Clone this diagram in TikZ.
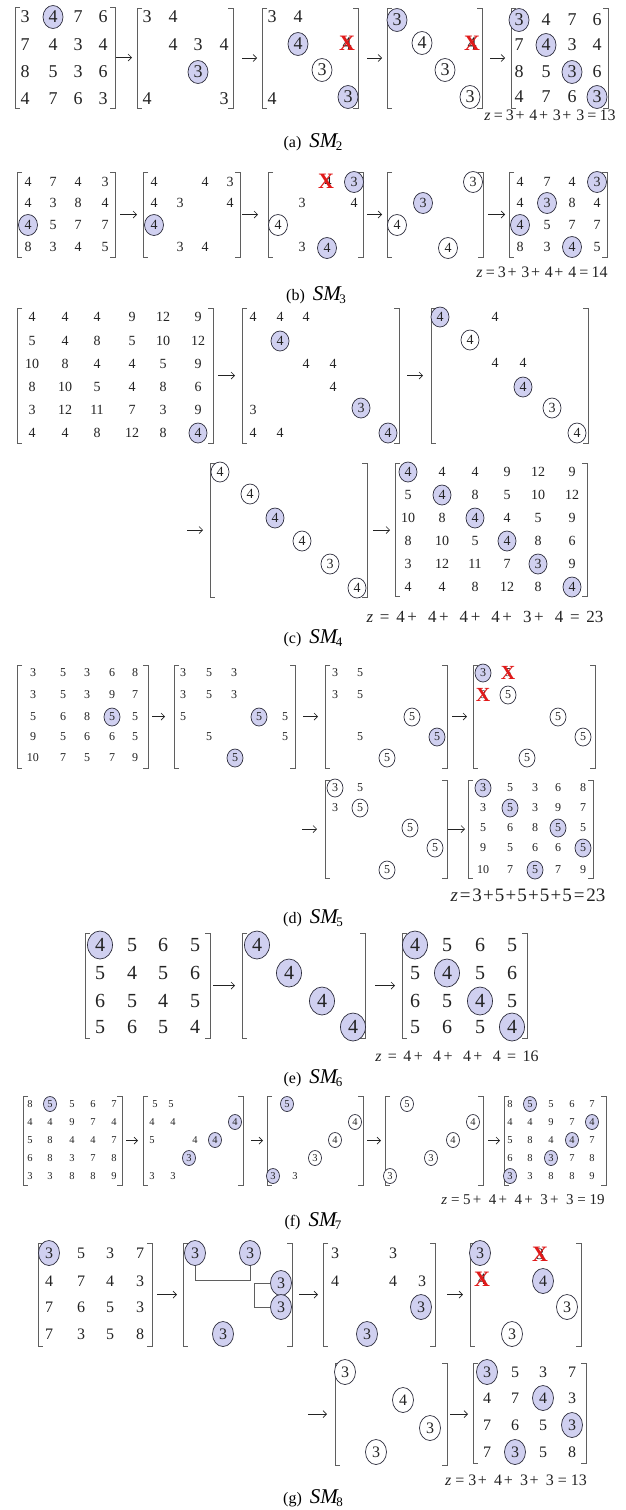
\documentclass[tikz,border=0pt]{standalone}
\usepackage{fontspec}
\setmainfont{Liberation Serif}
\usetikzlibrary{shapes.geometric,arrows.meta,calc}
\definecolor{selfill}{RGB}{208,208,240}
\definecolor{ringc}{RGB}{45,45,60}
\definecolor{brkc}{RGB}{95,95,95}
\definecolor{inkc}{RGB}{35,35,35}
\definecolor{crossred}{RGB}{225,25,25}

\tikzset{
  mframe/.style={inner sep=0pt, outer sep=0pt, draw=none},
  esize/.style={minimum width=20pt, minimum height=23pt},
  ent/.style={inner sep=0pt, text=inkc},
  sel/.style={ellipse, draw=ringc, line width=0.7pt, fill=selfill, inner sep=0pt, text=inkc, esize},
  cnd/.style={sel, fill=white},
  xsize/.style={font=\bfseries\fontsize{22}{22}\selectfont},
  xmk/.style={inner sep=0pt, text=crossred, xsize},
  brk/.style={draw=brkc, line width=1pt},
  arr/.style={draw=inkc, line width=0.7pt, -{Straight Barb[length=3.5pt,width=7pt]}},
  capn/.style={inner sep=0pt, text=black, font=\fontsize{16}{16}\selectfont},
  zsum/.style={inner sep=0pt, text=inkc},
}

% bracketed frame: name, left, top, right, bottom
\newcommand\frm[5]{%
  \node[mframe, minimum width={(#4-#2)*1pt}, minimum height={(#5-#3)*1pt}] (#1) at ({(#2+#4)/2},{(#3+#5)/2}) {};
  \draw[brk] ([xshift=5pt]#1.north west) -| (#1.south west) -- ++(5pt,0);
  \draw[brk] ([xshift=-5pt]#1.north east) -| (#1.south east) -- ++(-5pt,0);
}
% entries: prefix, list of x/y/text/style
\newcommand\ents[2]{\foreach \ex/\ey/\et/\es [count=\ek] in {#2}{\node[\es] (#1-\ek) at (\ex,\ey) {\et};}}
% arrow between frames: from, to, shorten start, shorten end
\newcommand\lnk[4]{\draw[arr, shorten <=#3, shorten >=#4] (#1.east) -- (#1.east -| #2.west);}
% caption label
\newcommand\capSM[1]{{\fontsize{21}{21}\selectfont\textit{SM}}\kern-2.5pt\raisebox{-3.5pt}{\fontsize{13}{13}\selectfont #1}}
% spaced operators for the sums: gaps set by \zpl, \zpr, \zeq
\newcommand\zp{\hspace{\zpl}+\hspace{\zpr}}
\newcommand\ze{\hspace{\zeq}=\hspace{\zeq}}
% sum line: plus-left gap, plus-right gap, equals gap, body
\newcommand\zline[4]{\def\zpl{#1}\def\zpr{#2}\def\zeq{#3}\textit{z}#4}

\begin{document}
\begin{tikzpicture}[x=1pt,y=-1pt]
\fill[white] (0,0) rectangle (626,1510);
\useasboundingbox (0,0) rectangle (626,1510);

% ---------------- (a) ----------------
\begin{scope}[every node/.append style={font=\fontsize{18}{18}\selectfont}, esize/.style={minimum width=20pt, minimum height=23pt}]
\frm{A1}{15}{7}{115}{108}
\ents{A1}{25/17/3/ent, 53/17/4/sel, 78/17/7/ent, 103/17/6/ent, 25/45/7/ent, 53/45/4/ent, 78/45/3/ent, 103/45/4/ent, 25/72/8/ent, 53/72/5/ent, 78/72/3/ent, 103/72/6/ent, 25/99/4/ent, 53/99/7/ent, 78/99/6/ent, 103/99/3/ent}
\frm{A2}{137}{8}{233}{108}
\ents{A2}{147/17/3/ent, 173/17/4/ent, 173/45/4/ent, 198/45/3/ent, 224/45/4/ent, 198/72/3/sel, 147/99/4/ent, 224/99/3/ent}
\frm{A3}{262}{8}{358}{108}
\ents{A3}{272/17/3/ent, 298/17/4/ent, 298/44/4/sel, 347/44/4/ent, 322/70/3/cnd, 272/99/4/ent, 348/97/3/sel}
\node[xmk] (A3x) at (347,43) {X};
\frm{A4}{387}{8}{482}{108}
\ents{A4}{397/20/3/sel, 422/43/4/cnd, 472/44/4/ent, 445/70/3/cnd, 470/97/3/cnd}
\node[xmk] (A4x) at (472,43) {X};
\frm{A5}{511}{8}{608}{108}
\ents{A5}{519/20/3/sel, 546/20/4/ent, 572/20/7/ent, 597/20/6/ent, 519/45/7/ent, 546/45/4/sel, 572/45/3/ent, 597/45/4/ent, 519/72/8/ent, 546/72/5/ent, 572/72/3/sel, 597/72/6/ent, 519/97/4/ent, 546/97/7/ent, 572/97/6/ent, 597/97/3/sel}
\lnk{A1}{A2}{0.5pt}{5pt}
\lnk{A2}{A3}{9pt}{5pt}
\lnk{A3}{A4}{9pt}{5pt}
\lnk{A4}{A5}{8pt}{6pt}
\node[zsum, font=\fontsize{16}{16}\selectfont] (Az) at (550,115) {\zline{.1em}{.3em}{.2em}{\ze 3\zp 4\zp 3\zp 3\ze 13}};
\node[capn] (Acap) at (313,142) {(a)\enspace\capSM{2}};
\end{scope}

% ---------------- (b) ----------------
\begin{scope}[every node/.append style={font=\fontsize{14}{14}\selectfont}, esize/.style={minimum width=19pt, minimum height=21pt}]
\frm{B1}{17}{172}{115}{257}
\ents{B1}{28/182/4/ent, 53/182/7/ent, 78/182/4/ent, 105/182/3/ent, 28/203/4/ent, 53/203/3/ent, 78/203/8/ent, 105/203/4/ent, 28/225/4/sel, 53/225/5/ent, 78/225/7/ent, 105/225/7/ent, 28/247/8/ent, 53/247/3/ent, 78/247/4/ent, 105/247/5/ent}
\frm{B2}{143}{172}{240}{257}
\ents{B2}{154/182/4/ent, 205/182/4/ent, 230/182/3/ent, 154/203/4/ent, 180/203/3/ent, 230/203/4/ent, 154/225/4/sel, 180/247/3/ent, 205/247/4/ent}
\frm{B3}{268}{172}{363}{257}
\ents{B3}{328/182/4/ent, 354/182/3/sel, 302/203/3/ent, 354/203/4/ent, 278/225/4/cnd, 302/247/3/ent, 327/248/4/sel}
\node[xmk, xsize/.style={font=\bfseries\fontsize{20}{20}\selectfont}] (B3x) at (326,181) {X};
\frm{B4}{387}{172}{483}{257}
\ents{B4}{473/182/3/cnd, 423/203/3/sel, 397/225/4/cnd, 448/248/4/cnd}
\frm{B5}{509}{172}{607}{257}
\ents{B5}{520/182/4/ent, 547/182/7/ent, 572/182/4/ent, 597/182/3/sel, 520/203/4/ent, 547/203/3/sel, 572/203/8/ent, 597/203/4/ent, 520/225/4/sel, 547/225/5/ent, 572/225/7/ent, 597/225/7/ent, 520/247/8/ent, 547/247/3/ent, 572/247/4/sel, 597/247/5/ent}
\lnk{B1}{B2}{5pt}{6pt}
\lnk{B2}{B3}{2pt}{10pt}
\lnk{B3}{B4}{4pt}{5pt}
\lnk{B4}{B5}{5pt}{4pt}
\node[zsum, font=\fontsize{16}{16}\selectfont] (Bz) at (542,272) {\zline{.1em}{.3em}{.2em}{\ze 3\zp 3\zp 4\zp 4\ze 14}};
\node[capn] (Bcap) at (316,295) {(b)\enspace\capSM{3}};
\end{scope}

% ---------------- (c) ----------------
\begin{scope}[every node/.append style={font=\fontsize{14}{14}\selectfont}, esize/.style={minimum width=18pt, minimum height=20pt}]
\frm{C1}{17}{308}{213}{443}
\ents{C1}{32/317/4/ent, 65/317/4/ent, 97/317/4/ent, 132/317/9/ent, 163/317/12/ent, 198/317/9/ent,
 32/341/5/ent, 65/341/4/ent, 97/341/8/ent, 132/341/5/ent, 163/341/10/ent, 198/341/12/ent,
 32/364/10/ent, 65/364/8/ent, 97/364/4/ent, 132/364/4/ent, 163/364/5/ent, 198/364/9/ent,
 32/387/8/ent, 65/387/10/ent, 97/387/5/ent, 132/387/4/ent, 163/387/8/ent, 198/387/6/ent,
 32/410/3/ent, 65/410/12/ent, 97/410/11/ent, 132/410/7/ent, 163/410/3/ent, 198/410/9/ent,
 32/433/4/ent, 65/433/4/ent, 97/433/8/ent, 132/433/12/ent, 163/433/8/ent, 198/433/4/sel}
\frm{C2}{242}{308}{399}{443}
\ents{C2}{253/317/4/ent, 280/317/4/ent, 306/317/4/ent, 280/341/4/sel, 306/364/4/ent, 333/364/4/ent, 333/387/4/ent, 253/410/3/ent, 361/408/3/sel, 253/433/4/ent, 280/433/4/ent, 388/433/4/sel}
\frm{C3}{431}{308}{588}{443}
\ents{C3}{440/317/4/sel, 495/317/4/ent, 470/340/4/cnd, 495/363/4/ent, 523/363/4/ent, 523/387/4/sel, 552/408/3/cnd, 577/433/4/cnd}
\frm{C4}{210}{463}{367}{597}
\ents{C4}{220/472/4/cnd, 250/494/4/cnd, 275/518/4/sel, 302/541/4/cnd, 330/564/3/cnd, 357/588/4/cnd}
\frm{C5}{395}{463}{587}{596}
\ents{C5}{408/472/4/sel, 442/472/4/ent, 475/472/4/ent, 507/472/9/ent, 538/472/12/ent, 572/472/9/ent,
 408/495/5/ent, 442/495/4/sel, 475/495/8/ent, 507/495/5/ent, 538/495/10/ent, 572/495/12/ent,
 408/518/10/ent, 442/518/8/ent, 475/518/4/sel, 507/518/4/ent, 538/518/5/ent, 572/518/9/ent,
 408/541/8/ent, 442/541/10/ent, 475/541/5/ent, 507/541/4/sel, 538/541/8/ent, 572/541/6/ent,
 408/564/3/ent, 442/564/12/ent, 475/564/11/ent, 507/564/7/ent, 538/564/3/sel, 572/564/9/ent,
 408/587/4/ent, 442/587/4/ent, 475/587/8/ent, 507/587/12/ent, 538/587/8/ent, 572/587/4/sel}
\lnk{C1}{C2}{5pt}{7pt}
\lnk{C2}{C3}{8pt}{8pt}
\coordinate (C34) at (187,530);
\draw[arr, shorten >=7pt] (C34) -- (C34 -| C4.west);
\lnk{C4}{C5}{6pt}{5pt}
\node[zsum, font=\fontsize{17}{17}\selectfont] (Cz) at (485,617) {\zline{.15em}{.65em}{.4em}{\ze 4\zp 4\zp 4\zp 4\zp 3\zp 4\ze 23}};
\node[capn] (Ccap) at (313,638) {(c)\enspace\capSM{4}};
\end{scope}

% ---------------- (d) ----------------
\begin{scope}[every node/.append style={font=\fontsize{12}{12}\selectfont}, esize/.style={minimum width=16pt, minimum height=18pt}, xsize/.style={font=\bfseries\fontsize{20}{20}\selectfont}]
\frm{D1}{17}{665}{148}{768}
\ents{D1}{33/673/3/ent, 63/673/5/ent, 87/673/3/ent, 112/673/6/ent, 135/673/8/ent,
 33/695/3/ent, 63/695/5/ent, 87/695/3/ent, 112/695/9/ent, 135/695/7/ent,
 33/717/5/ent, 63/717/6/ent, 87/717/8/ent, 112/717/5/sel, 135/717/5/ent,
 33/737/9/ent, 63/737/5/ent, 87/737/6/ent, 112/737/6/ent, 135/737/5/ent,
 33/758/10/ent, 63/758/7/ent, 87/758/5/ent, 112/758/7/ent, 135/758/9/ent}
\frm{D2}{174}{665}{295}{768}
\ents{D2}{183/673/3/ent, 209/673/5/ent, 234/673/3/ent, 183/695/3/ent, 209/695/5/ent, 234/695/3/ent, 183/717/5/ent, 259/717/5/sel, 285/717/5/ent, 209/737/5/ent, 285/737/5/ent, 235/758/5/sel}
\frm{D3}{325}{665}{447}{768}
\ents{D3}{335/673/3/ent, 360/673/5/ent, 335/695/3/ent, 360/695/5/ent, 412/717/5/cnd, 360/737/5/ent, 437/737/5/sel, 387/758/5/cnd}
\frm{D4}{473}{665}{595}{768}
\ents{D4}{483/673/3/sel, 508/673/5/ent, 483/695/3/ent, 508/695/5/cnd, 558/717/5/cnd, 583/737/5/cnd, 527/758/5/cnd}
\node[xmk] (D4x1) at (508,673) {X};
\node[xmk] (D4x2) at (483,695) {X};
\frm{D5}{325}{780}{447}{878}
\ents{D5}{335/788/3/cnd, 360/788/5/ent, 335/808/3/ent, 360/808/5/cnd, 410/828/5/cnd, 435/848/5/cnd, 387/870/5/cnd}
\frm{D6}{468}{780}{593}{878}
\ents{D6}{483/788/3/sel, 510/788/5/ent, 535/788/3/ent, 558/788/6/ent, 583/788/8/ent,
 483/808/3/ent, 510/808/5/sel, 535/808/3/ent, 558/808/9/ent, 583/808/7/ent,
 483/828/5/ent, 510/828/6/ent, 535/828/8/ent, 558/828/5/sel, 583/828/5/ent,
 483/848/9/ent, 510/848/5/ent, 535/848/6/ent, 558/848/6/ent, 583/848/5/sel,
 483/870/10/ent, 510/870/7/ent, 535/870/5/sel, 558/870/7/ent, 583/870/9/ent}
\lnk{D1}{D2}{4pt}{9pt}
\lnk{D2}{D3}{8pt}{7pt}
\lnk{D3}{D4}{5pt}{6pt}
\coordinate (D45) at (302,829);
\draw[arr, shorten >=8pt] (D45) -- (D45 -| D5.west);
\lnk{D5}{D6}{1pt}{3pt}
\node[zsum, font=\fontsize{19}{19}\selectfont] (Dz) at (528,895) {\zline{.06em}{.06em}{.1em}{\ze 3\zp 5\zp 5\zp 5\zp 5\ze 23}};
\node[capn] (Dcap) at (313,918) {(d)\enspace\capSM{5}};
\end{scope}

% ---------------- (e) ----------------
\begin{scope}[every node/.append style={font=\fontsize{20}{20}\selectfont}, esize/.style={minimum width=25pt, minimum height=28pt}]
\frm{E1}{85}{933}{210}{1038}
\ents{E1}{100/945/4/sel, 132/945/5/ent, 163/945/6/ent, 195/945/5/ent,
 100/973/5/ent, 132/973/4/ent, 163/973/5/ent, 195/973/6/ent,
 100/1001/6/ent, 132/1001/5/ent, 163/1001/4/ent, 195/1001/5/ent,
 100/1027/5/ent, 132/1027/6/ent, 163/1027/5/ent, 195/1027/4/ent}
\frm{E2}{242}{933}{365}{1038}
\ents{E2}{257/945/4/sel, 289/973/4/sel, 322/1001/4/sel, 353/1027/4/sel}
\frm{E3}{402}{933}{527}{1038}
\ents{E3}{415/945/4/sel, 447/945/5/ent, 480/945/6/ent, 512/945/5/ent,
 415/973/5/ent, 447/973/4/sel, 480/973/5/ent, 512/973/6/ent,
 415/1001/6/ent, 447/1001/5/ent, 480/1001/4/sel, 512/1001/5/ent,
 415/1027/5/ent, 447/1027/6/ent, 480/1027/5/ent, 512/1027/4/sel}
\lnk{E1}{E2}{3pt}{7pt}
\lnk{E2}{E3}{10pt}{7pt}
\node[zsum, font=\fontsize{16}{16}\selectfont] (Ez) at (457,1056) {\zline{.15em}{.65em}{.4em}{\ze 4\zp 4\zp 4\zp 4\ze 16}};
\node[capn] (Ecap) at (313,1078) {(e)\enspace\capSM{6}};
\end{scope}

% ---------------- (f) ----------------
\begin{scope}[every node/.append style={font=\fontsize{10.5}{10.5}\selectfont}, esize/.style={minimum width=13pt, minimum height=15pt}]
\frm{F1}{23}{1096}{122}{1185}
\ents{F1}{30/1104/8/ent, 50/1104/5/sel, 72/1104/5/ent, 93/1104/6/ent, 114/1104/7/ent,
 30/1122/4/ent, 50/1122/4/ent, 72/1122/9/ent, 93/1122/7/ent, 114/1122/4/ent,
 30/1140/5/ent, 50/1140/8/ent, 72/1140/4/ent, 93/1140/4/ent, 114/1140/7/ent,
 30/1158/6/ent, 50/1158/8/ent, 72/1158/3/ent, 93/1158/7/ent, 114/1158/8/ent,
 30/1176/3/ent, 50/1176/3/ent, 72/1176/8/ent, 93/1176/8/ent, 114/1176/9/ent}
\frm{F2}{143}{1096}{243}{1185}
\ents{F2}{155/1104/5/ent, 171/1104/5/ent, 152/1122/4/ent, 173/1122/4/ent, 235/1122/4/sel, 152/1140/5/ent, 195/1140/4/ent, 215/1140/4/sel, 189/1158/3/sel, 152/1176/3/ent, 173/1176/3/ent}
\frm{F3}{267}{1096}{363}{1185}
\ents{F3}{287/1104/5/sel, 355/1122/4/cnd, 335/1140/4/cnd, 315/1158/3/cnd, 273/1176/3/sel, 295/1176/3/ent}
\frm{F4}{385}{1096}{483}{1185}
\ents{F4}{407/1104/5/cnd, 473/1122/4/cnd, 453/1140/4/cnd, 431/1158/3/cnd, 390/1176/3/cnd}
\frm{F5}{504}{1096}{606}{1185}
\ents{F5}{510/1104/8/ent, 530/1104/5/sel, 551/1104/5/ent, 572/1104/6/ent, 592/1104/7/ent,
 510/1122/4/ent, 530/1122/4/ent, 551/1122/9/ent, 572/1122/7/ent, 592/1122/4/sel,
 510/1140/5/ent, 530/1140/8/ent, 551/1140/4/ent, 572/1140/4/sel, 592/1140/7/ent,
 510/1158/6/ent, 530/1158/8/ent, 551/1158/3/sel, 572/1158/7/ent, 592/1158/8/ent,
 510/1176/3/sel, 530/1176/3/ent, 551/1176/8/ent, 572/1176/8/ent, 592/1176/9/ent}
\lnk{F1}{F2}{4pt}{5pt}
\lnk{F2}{F3}{8pt}{4pt}
\lnk{F3}{F4}{4pt}{4pt}
\lnk{F4}{F5}{5pt}{4pt}
\node[zsum, font=\fontsize{15}{15}\selectfont] (Fz) at (523,1200) {\zline{.15em}{.5em}{.25em}{\ze 5\zp 4\zp 4\zp 3\zp 3\ze 19}};
\node[capn] (Fcap) at (313,1221) {(f)\enspace\capSM{7}};
\end{scope}

% ---------------- (g) ----------------
\begin{scope}[every node/.append style={font=\fontsize{16}{16}\selectfont}, esize/.style={minimum width=21pt, minimum height=25pt}]
\frm{G1}{38}{1243}{152}{1346}
\ents{G1}{49/1253/3/sel, 81/1253/5/ent, 110/1253/3/ent, 140/1253/7/ent,
 49/1281/4/ent, 81/1281/7/ent, 110/1281/4/ent, 140/1281/3/ent,
 49/1307/7/ent, 81/1307/6/ent, 110/1307/5/ent, 140/1307/3/ent,
 49/1334/7/ent, 81/1334/3/ent, 110/1334/5/ent, 140/1334/8/ent}
\frm{G2}{183}{1243}{292}{1346}
\ents{G2}{195/1253/3/sel, 250/1253/3/sel, 281/1283/3/sel, 281/1307/3/sel, 223/1334/3/sel}
\coordinate (G2j) at (0,1280);
\coordinate (G2k) at (254,0);
\draw[brk, line width=0.8pt] (G2-1.south) -- (G2-1.south |- G2j) -- (G2-2.south |- G2j) -- (G2-2.south);
\draw[brk, line width=0.8pt] (G2-3.west) -- (G2-3.west -| G2k) -- (G2-4.west -| G2k) -- (G2-4.west);
\frm{G3}{323}{1243}{435}{1346}
\ents{G3}{335/1253/3/ent, 393/1253/3/ent, 335/1281/4/ent, 393/1281/4/ent, 422/1281/3/ent, 421/1307/3/sel, 367/1334/3/sel}
\frm{G4}{470}{1243}{581}{1346}
\ents{G4}{480/1253/3/sel, 540/1254/3/ent, 482/1279/4/ent, 543/1281/4/sel, 567/1307/3/cnd, 512/1334/3/cnd}
\node[xmk] (G4x1) at (540,1254) {X};
\node[xmk] (G4x2) at (482,1279) {X};
\frm{G5}{335}{1363}{447}{1465}
\ents{G5}{345/1372/3/cnd, 403/1400/4/cnd, 430/1428/3/cnd, 376/1452/3/cnd}
\frm{G6}{473}{1363}{586}{1463}
\ents{G6}{487/1372/3/sel, 515/1372/5/ent, 543/1372/3/ent, 572/1372/7/ent,
 487/1398/4/ent, 515/1398/7/ent, 543/1398/4/sel, 572/1398/3/ent,
 487/1425/7/ent, 515/1425/6/ent, 543/1425/5/ent, 572/1425/3/sel,
 487/1452/7/ent, 515/1452/3/sel, 543/1452/5/ent, 572/1452/8/ent}
\lnk{G1}{G2}{5pt}{6pt}
\lnk{G2}{G3}{7pt}{5pt}
\lnk{G3}{G4}{12pt}{7pt}
\coordinate (G45) at (308,1414);
\draw[arr, shorten >=8pt] (G45) -- (G45 -| G5.west);
\lnk{G5}{G6}{3pt}{5pt}
\node[zsum, font=\fontsize{16}{16}\selectfont] (Gz) at (516,1480) {\zline{.1em}{.45em}{.25em}{\ze 3\zp 4\zp 3\zp 3\ze 13}};
\node[capn] (Gcap) at (313,1498) {(g)\enspace\capSM{8}};
\end{scope}
\end{tikzpicture}
\end{document}
